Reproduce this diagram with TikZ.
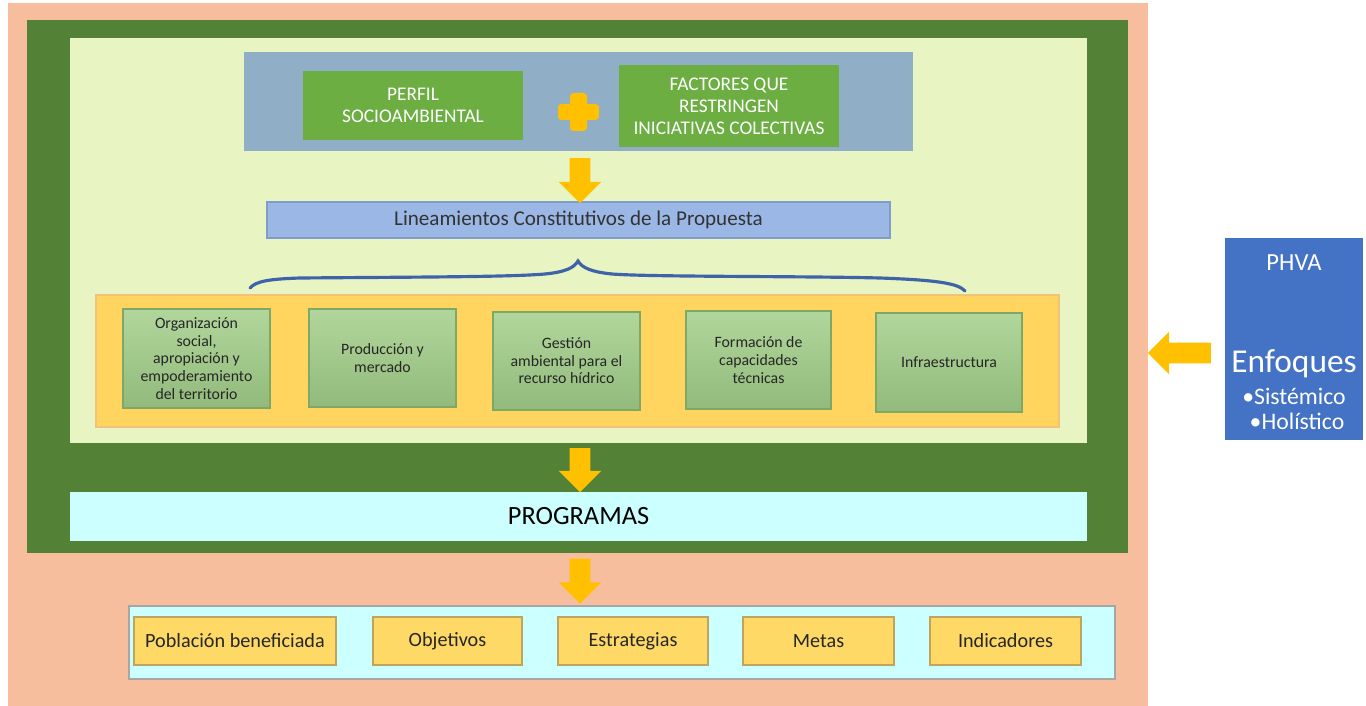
\documentclass[tikz,border=0pt]{standalone}
\usepackage{fontspec}
\setmainfont{Carlito}
\usetikzlibrary{shapes.arrows}
\definecolor{salmon}{HTML}{F7BE9E}
\definecolor{dkgreen}{HTML}{538135}
\definecolor{paleyg}{HTML}{E8F4C2}
\definecolor{bluegray}{HTML}{90AEC6}
\definecolor{midgreen}{HTML}{6CAE42}
\definecolor{lineblue}{HTML}{9BB7E6}
\definecolor{linebord}{HTML}{7F9CCB}
\definecolor{ambar}{HTML}{FFD560}
\definecolor{ambarbd}{HTML}{F3C27A}
\definecolor{lgreen}{HTML}{A3CF8A}
\definecolor{lgreenbd}{HTML}{7EA866}
\definecolor{cyanl}{HTML}{CCFFFF}
\definecolor{ybox}{HTML}{FFD966}
\definecolor{yboxbd}{HTML}{BFA45E}
\definecolor{phva}{HTML}{4472C4}
\definecolor{arrowc}{HTML}{FFC000}
\definecolor{bracec}{HTML}{3F63A8}
\newcommand{\bx}[7]{\node[#6, minimum width={(#4-#2)*0.02cm}, minimum height={(#5-#3)*0.02cm}] (#1) at ({(#2+#4)/2},{(#3+#5)/2}) {#7};}
\tikzset{
  base/.style={inner sep=0pt, outer sep=0pt, align=center},
  salmonbox/.style={base, fill=salmon},
  greenframe/.style={base, fill=dkgreen},
  palebox/.style={base, fill=paleyg},
  graybox/.style={base, fill=bluegray},
  topbox/.style={base, fill=midgreen, text=white, font=\fontsize{11}{12.5}\selectfont},
  linebox/.style={base, fill=lineblue, draw=linebord, line width=0.6pt, text=black!80, font=\fontsize{12}{14}\selectfont},
  ambarbox/.style={base, fill=ambar, draw=ambarbd, line width=0.8pt},
  lbox/.style={base, top color=lgreen!85!white, bottom color=lgreen!90!black, draw=lgreenbd, line width=0.6pt, text=black!85, font=\fontsize{9}{10}\selectfont},
  cyanbox/.style={base, fill=cyanl, draw=gray!70, line width=0.8pt},
  ybx/.style={base, fill=ybox, draw=yboxbd, line width=0.6pt, text=black!85, font=\fontsize{11.5}{13}\selectfont},
  phvabox/.style={base, fill=phva, text=white},
  bigarrow/.style={single arrow, fill=arrowc, draw=none, inner xsep=0pt, inner ysep={10*0.02cm}, single arrow head extend={11*0.02cm}, single arrow tip angle=90, outer sep=0pt},
}
\begin{document}
\begin{tikzpicture}[x=0.02cm, y=-0.02cm]
\useasboundingbox (0,0) rectangle (1366,706);
\fill[white] (0,0) rectangle (1366,706);
\bx{outer}{8}{3}{1148}{706}{salmonbox}{}
\bx{frame}{27}{20}{1128}{553}{greenframe}{}
\bx{inner}{70}{38}{1087}{443}{palebox}{}
\bx{gray}{244}{52}{913}{151}{graybox}{}
\bx{perfil}{303}{71}{523}{140}{topbox}{PERFIL\\SOCIOAMBIENTAL}
\bx{factores}{619}{65}{839}{147}{topbox}{FACTORES QUE\\RESTRINGEN\\INICIATIVAS COLECTIVAS}
% plus sign
\fill[arrowc, rounded corners=2pt] (558,104) rectangle (599,120);
\fill[arrowc, rounded corners=2pt] (570,93) rectangle (587,131);
\bx{linea}{267}{202}{890}{238}{linebox}{Lineamientos Constitutivos de la Propuesta}
\bx{cont}{96}{295}{1059}{427}{ambarbox}{}
\bx{g1}{123}{309}{270}{408}{lbox}{Organización\\social,\\apropiación y\\empoderamiento\\del territorio}
\bx{g2}{309}{309}{456}{407}{lbox}{Producción y\\mercado}
\bx{g3}{493}{312}{640}{410}{lbox}{Gestión\\ambiental para el\\recurso hídrico}
\bx{g4}{686}{311}{831}{409}{lbox}{Formación de\\capacidades\\técnicas}
\bx{g5}{876}{313}{1022}{412}{lbox}{Infraestructura}
\bx{prog}{70}{492}{1087}{541}{base, fill=cyanl, font=\fontsize{15}{17}\selectfont}{PROGRAMAS}
\bx{bottom}{129}{606}{1115}{679}{cyanbox}{}
\bx{y1}{134}{617}{336}{665}{ybx}{Población beneficiada}
\bx{y2}{373}{617}{522}{665}{ybx}{Objetivos}
\bx{y3}{558}{617}{708}{665}{ybx}{Estrategias}
\bx{y4}{743}{617}{894}{665}{ybx}{Metas}
\bx{y5}{930}{617}{1081}{665}{ybx}{Indicadores}
\bx{phva}{1225}{238}{1363}{440}{phvabox}{}
\node[text=white, font=\fontsize{14}{16}\selectfont] (phvat) at (1294,263) {PHVA};
\node[text=white, font=\fontsize{19}{21}\selectfont] (enf) at (1294,364) {Enfoques};
\node[text=white, font=\fontsize{13.5}{15}\selectfont] (sis) at (1294,396) {•Sistémico};
\node[text=white, font=\fontsize{13.5}{15}\selectfont] (hol) at (1297,421) {•Holístico};
% arrows
\node[bigarrow, rotate=-90, minimum height={45*0.02cm}] (a1) at (580,175.5) {};
\node[bigarrow, rotate=-90, minimum height={44*0.02cm}] (a2) at (580,465) {};
\node[bigarrow, rotate=-90, minimum height={45*0.02cm}] (a3) at (580,576) {};
\node[bigarrow, rotate=180, minimum height={63*0.02cm}] (a4) at (1184.5,353) {};
% brace
\coordinate (bl) at (250,288);
\coordinate (bm) at (578,261);
\coordinate (br) at (965,291);
\draw[bracec, line width=1.8pt, line cap=round]
  (bl) .. controls (256,281) and (270,279) .. (300,278)
  .. controls (420,277) and (510,277) .. (545,274)
  .. controls (565,272) and (574,268) .. (bm)
  .. controls (582,268) and (592,272) .. (612,274)
  .. controls (650,277) and (800,276) .. (880,278)
  .. controls (935,280) and (958,283) .. (br);
\end{tikzpicture}
\end{document}
